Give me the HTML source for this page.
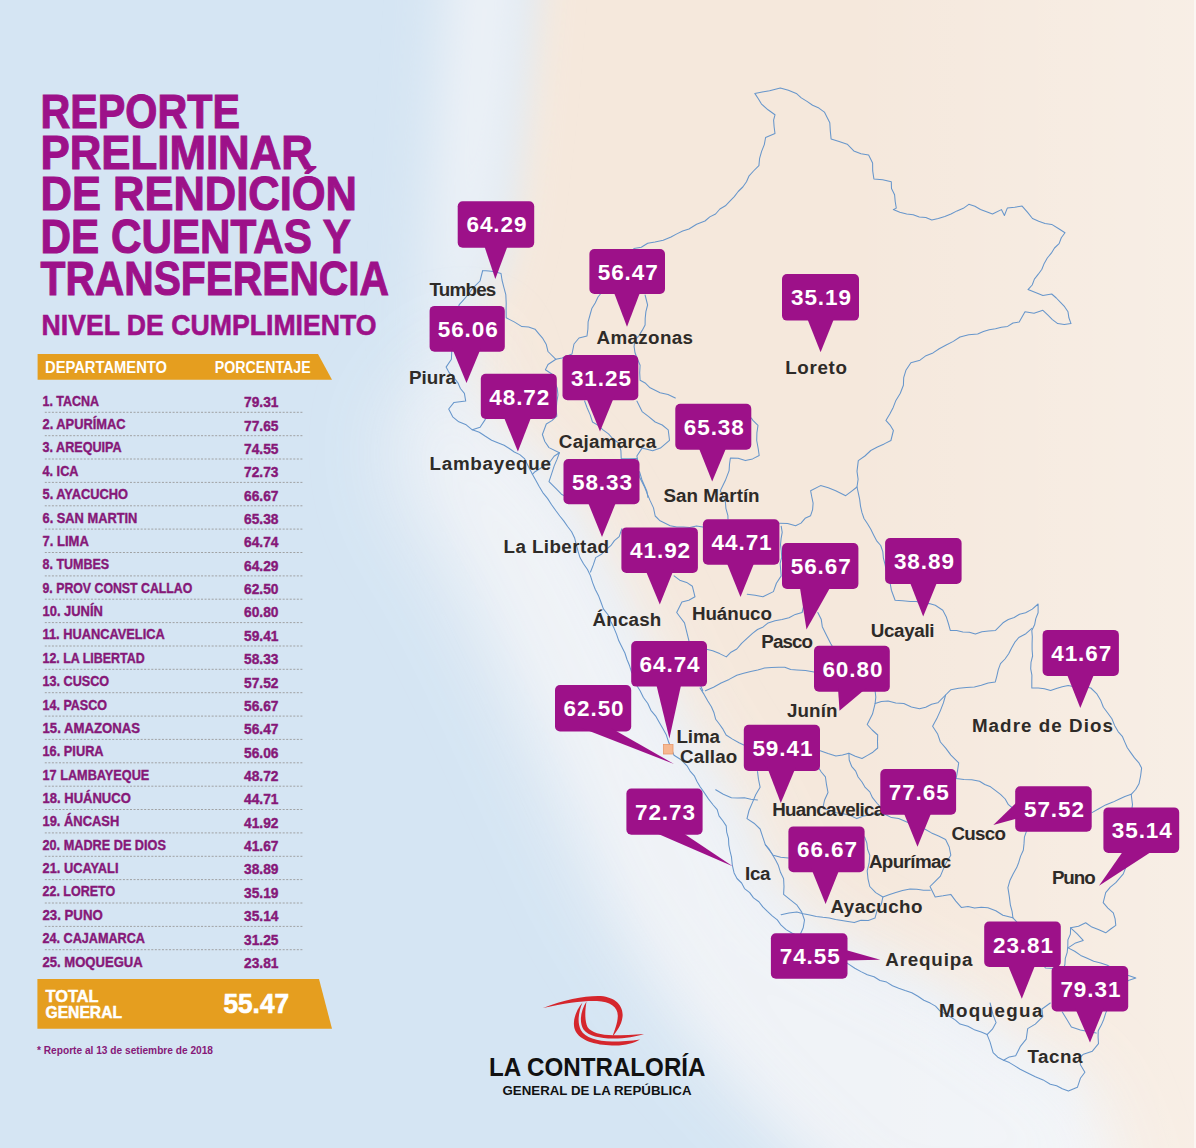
<!DOCTYPE html><html><head><meta charset="utf-8"><style>
html,body{margin:0;padding:0;width:1196px;height:1148px;overflow:hidden;background:#d5e5f3}
svg{display:block}
</style></head><body>
<svg width="1196" height="1148" viewBox="0 0 1196 1148">
<defs>
<filter id="blur" x="-50%" y="-50%" width="200%" height="200%"><feGaussianBlur stdDeviation="40"/></filter>
<filter id="blur2" x="-50%" y="-50%" width="200%" height="200%"><feGaussianBlur stdDeviation="28"/></filter>
<filter id="blur3" x="-50%" y="-50%" width="200%" height="200%"><feGaussianBlur stdDeviation="18"/></filter>
<linearGradient id="rg" x1="0" y1="0" x2="1" y2="0"><stop offset="0" stop-color="#ffffff" stop-opacity="0"/><stop offset="1" stop-color="#ffffff" stop-opacity="0.28"/></linearGradient>
</defs>
<rect width="1196" height="1148" fill="#d5e5f3"/>

<path d="M538,-60 L1300,-60 L1300,1250 L1005,1250 L1035,1140 L1076,1094 L1008,1058 L936,1003 L856,966 L790,928 L748,878 L738,828 L712,789 L681,744 L651,692 L626,632 L601,580 L566,514 L535,468 L484,436 L467,404 L463,362 L471,304 L494,276 L508,220 L522,100 Z" fill="#f5e8dc" filter="url(#blur3)"/>
<path d="M455,-60 L525,-60 L512,100 L498,220 L484,278 L468,304 L462,362 L466,400 L482,428 L532,460 L564,510 L598,576 L624,628 L650,688 L680,740 L710,784 L736,824 L746,870 L792,918 L858,956 L938,994 L1010,1050 L1076,1082 L1120,1220 L900,1220 L780,1110 L700,1010 L640,910 L600,810 L560,710 L520,610 L480,530 L445,440 L430,330 L440,150 Z" fill="#f0f3f7" filter="url(#blur2)"/>
<path d="M470,330 L490,430 L545,470 L580,520 L614,586 L640,638 L666,698 L696,750 L726,794 L752,834 L762,880 L806,926 L870,962 L950,1000 L1020,1052 L1084,1086 L1130,1220 L880,1220 L760,1110 L670,1010 L600,900 L550,790 L500,680 L450,580 L400,500 L390,420 Z" fill="#f0f3f7" filter="url(#blur)" opacity="0.85"/>
<rect x="850" y="0" width="346" height="1148" fill="url(#rg)"/>
<rect x="1194" y="0" width="2" height="1148" fill="#fbf6f2"/>
<text x="40.5" y="127.7" font-family="Liberation Sans" font-weight="700" font-size="48.5" fill="#9d1189" textLength="199.5" lengthAdjust="spacingAndGlyphs" stroke="#9d1189" stroke-width="1.1">REPORTE</text>
<text x="40.5" y="168.6" font-family="Liberation Sans" font-weight="700" font-size="48.5" fill="#9d1189" textLength="272.5" lengthAdjust="spacingAndGlyphs" stroke="#9d1189" stroke-width="1.1">PRELIMINAR</text>
<text x="40.5" y="210.2" font-family="Liberation Sans" font-weight="700" font-size="48.5" fill="#9d1189" textLength="316.5" lengthAdjust="spacingAndGlyphs" stroke="#9d1189" stroke-width="1.1">DE RENDICIÓN</text>
<text x="40.5" y="252.8" font-family="Liberation Sans" font-weight="700" font-size="48.5" fill="#9d1189" textLength="310.5" lengthAdjust="spacingAndGlyphs" stroke="#9d1189" stroke-width="1.1">DE CUENTAS Y</text>
<text x="40.5" y="294.6" font-family="Liberation Sans" font-weight="700" font-size="48.5" fill="#9d1189" textLength="348.5" lengthAdjust="spacingAndGlyphs" stroke="#9d1189" stroke-width="1.1">TRANSFERENCIA</text>
<text x="41.5" y="334.7" font-family="Liberation Sans" font-weight="700" font-size="29" fill="#9d1189" textLength="335.0" lengthAdjust="spacingAndGlyphs" stroke="#9d1189" stroke-width="0.6">NIVEL DE CUMPLIMIENTO</text>
<path d="M37.6,354 L318,354 L332,379.8 L37.6,379.8 Z" fill="#e59e1f"/>
<text x="45.0" y="372.9" font-family="Liberation Sans" font-weight="700" font-size="16.8" fill="#ffffff" textLength="122.0" lengthAdjust="spacingAndGlyphs">DEPARTAMENTO</text>
<text x="214.7" y="372.9" font-family="Liberation Sans" font-weight="700" font-size="16.8" fill="#ffffff" textLength="96.0" lengthAdjust="spacingAndGlyphs">PORCENTAJE</text>
<text x="42.5" y="405.7" font-family="Liberation Sans" font-weight="700" font-size="14.6" fill="#861878" textLength="56.6" lengthAdjust="spacingAndGlyphs" stroke="#861878" stroke-width="0.4">1. TACNA</text>
<text x="244.0" y="407.1" font-family="Liberation Sans" font-weight="700" font-size="14.6" fill="#861878" textLength="34.5" lengthAdjust="spacingAndGlyphs" stroke="#861878" stroke-width="0.4">79.31</text>
<line x1="44.8" y1="412.3" x2="303" y2="412.3" stroke="#9a9a9a" stroke-width="0.9" stroke-dasharray="2,1.55"/>
<text x="42.5" y="429.1" font-family="Liberation Sans" font-weight="700" font-size="14.6" fill="#861878" textLength="83.0" lengthAdjust="spacingAndGlyphs" stroke="#861878" stroke-width="0.4">2. APURÍMAC</text>
<text x="244.0" y="430.5" font-family="Liberation Sans" font-weight="700" font-size="14.6" fill="#861878" textLength="34.5" lengthAdjust="spacingAndGlyphs" stroke="#861878" stroke-width="0.4">77.65</text>
<line x1="44.8" y1="435.7" x2="303" y2="435.7" stroke="#9a9a9a" stroke-width="0.9" stroke-dasharray="2,1.55"/>
<text x="42.5" y="452.4" font-family="Liberation Sans" font-weight="700" font-size="14.6" fill="#861878" textLength="79.2" lengthAdjust="spacingAndGlyphs" stroke="#861878" stroke-width="0.4">3. AREQUIPA</text>
<text x="244.0" y="453.8" font-family="Liberation Sans" font-weight="700" font-size="14.6" fill="#861878" textLength="34.5" lengthAdjust="spacingAndGlyphs" stroke="#861878" stroke-width="0.4">74.55</text>
<line x1="44.8" y1="459.0" x2="303" y2="459.0" stroke="#9a9a9a" stroke-width="0.9" stroke-dasharray="2,1.55"/>
<text x="42.5" y="475.8" font-family="Liberation Sans" font-weight="700" font-size="14.6" fill="#861878" textLength="36.0" lengthAdjust="spacingAndGlyphs" stroke="#861878" stroke-width="0.4">4. ICA</text>
<text x="244.0" y="477.2" font-family="Liberation Sans" font-weight="700" font-size="14.6" fill="#861878" textLength="34.5" lengthAdjust="spacingAndGlyphs" stroke="#861878" stroke-width="0.4">72.73</text>
<line x1="44.8" y1="482.4" x2="303" y2="482.4" stroke="#9a9a9a" stroke-width="0.9" stroke-dasharray="2,1.55"/>
<text x="42.5" y="499.2" font-family="Liberation Sans" font-weight="700" font-size="14.6" fill="#861878" textLength="85.5" lengthAdjust="spacingAndGlyphs" stroke="#861878" stroke-width="0.4">5. AYACUCHO</text>
<text x="244.0" y="500.6" font-family="Liberation Sans" font-weight="700" font-size="14.6" fill="#861878" textLength="34.5" lengthAdjust="spacingAndGlyphs" stroke="#861878" stroke-width="0.4">66.67</text>
<line x1="44.8" y1="505.8" x2="303" y2="505.8" stroke="#9a9a9a" stroke-width="0.9" stroke-dasharray="2,1.55"/>
<text x="42.5" y="522.5" font-family="Liberation Sans" font-weight="700" font-size="14.6" fill="#861878" textLength="94.9" lengthAdjust="spacingAndGlyphs" stroke="#861878" stroke-width="0.4">6. SAN MARTIN</text>
<text x="244.0" y="523.9" font-family="Liberation Sans" font-weight="700" font-size="14.6" fill="#861878" textLength="34.5" lengthAdjust="spacingAndGlyphs" stroke="#861878" stroke-width="0.4">65.38</text>
<line x1="44.8" y1="529.1" x2="303" y2="529.1" stroke="#9a9a9a" stroke-width="0.9" stroke-dasharray="2,1.55"/>
<text x="42.5" y="545.9" font-family="Liberation Sans" font-weight="700" font-size="14.6" fill="#861878" textLength="46.3" lengthAdjust="spacingAndGlyphs" stroke="#861878" stroke-width="0.4">7. LIMA</text>
<text x="244.0" y="547.3" font-family="Liberation Sans" font-weight="700" font-size="14.6" fill="#861878" textLength="34.5" lengthAdjust="spacingAndGlyphs" stroke="#861878" stroke-width="0.4">64.74</text>
<line x1="44.8" y1="552.5" x2="303" y2="552.5" stroke="#9a9a9a" stroke-width="0.9" stroke-dasharray="2,1.55"/>
<text x="42.5" y="569.3" font-family="Liberation Sans" font-weight="700" font-size="14.6" fill="#861878" textLength="66.7" lengthAdjust="spacingAndGlyphs" stroke="#861878" stroke-width="0.4">8. TUMBES</text>
<text x="244.0" y="570.7" font-family="Liberation Sans" font-weight="700" font-size="14.6" fill="#861878" textLength="34.5" lengthAdjust="spacingAndGlyphs" stroke="#861878" stroke-width="0.4">64.29</text>
<line x1="44.8" y1="575.9" x2="303" y2="575.9" stroke="#9a9a9a" stroke-width="0.9" stroke-dasharray="2,1.55"/>
<text x="42.5" y="592.6" font-family="Liberation Sans" font-weight="700" font-size="14.6" fill="#861878" textLength="149.8" lengthAdjust="spacingAndGlyphs" stroke="#861878" stroke-width="0.4">9. PROV CONST CALLAO</text>
<text x="244.0" y="594.0" font-family="Liberation Sans" font-weight="700" font-size="14.6" fill="#861878" textLength="34.5" lengthAdjust="spacingAndGlyphs" stroke="#861878" stroke-width="0.4">62.50</text>
<line x1="44.8" y1="599.2" x2="303" y2="599.2" stroke="#9a9a9a" stroke-width="0.9" stroke-dasharray="2,1.55"/>
<text x="42.5" y="616.0" font-family="Liberation Sans" font-weight="700" font-size="14.6" fill="#861878" textLength="60.4" lengthAdjust="spacingAndGlyphs" stroke="#861878" stroke-width="0.4">10. JUNÍN</text>
<text x="244.0" y="617.4" font-family="Liberation Sans" font-weight="700" font-size="14.6" fill="#861878" textLength="34.5" lengthAdjust="spacingAndGlyphs" stroke="#861878" stroke-width="0.4">60.80</text>
<line x1="44.8" y1="622.6" x2="303" y2="622.6" stroke="#9a9a9a" stroke-width="0.9" stroke-dasharray="2,1.55"/>
<text x="42.5" y="639.4" font-family="Liberation Sans" font-weight="700" font-size="14.6" fill="#861878" textLength="122.2" lengthAdjust="spacingAndGlyphs" stroke="#861878" stroke-width="0.4">11. HUANCAVELICA</text>
<text x="244.0" y="640.8" font-family="Liberation Sans" font-weight="700" font-size="14.6" fill="#861878" textLength="34.5" lengthAdjust="spacingAndGlyphs" stroke="#861878" stroke-width="0.4">59.41</text>
<line x1="44.8" y1="646.0" x2="303" y2="646.0" stroke="#9a9a9a" stroke-width="0.9" stroke-dasharray="2,1.55"/>
<text x="42.5" y="662.7" font-family="Liberation Sans" font-weight="700" font-size="14.6" fill="#861878" textLength="102.1" lengthAdjust="spacingAndGlyphs" stroke="#861878" stroke-width="0.4">12. LA LIBERTAD</text>
<text x="244.0" y="664.1" font-family="Liberation Sans" font-weight="700" font-size="14.6" fill="#861878" textLength="34.5" lengthAdjust="spacingAndGlyphs" stroke="#861878" stroke-width="0.4">58.33</text>
<line x1="44.8" y1="669.3" x2="303" y2="669.3" stroke="#9a9a9a" stroke-width="0.9" stroke-dasharray="2,1.55"/>
<text x="42.5" y="686.1" font-family="Liberation Sans" font-weight="700" font-size="14.6" fill="#861878" textLength="66.7" lengthAdjust="spacingAndGlyphs" stroke="#861878" stroke-width="0.4">13. CUSCO</text>
<text x="244.0" y="687.5" font-family="Liberation Sans" font-weight="700" font-size="14.6" fill="#861878" textLength="34.5" lengthAdjust="spacingAndGlyphs" stroke="#861878" stroke-width="0.4">57.52</text>
<line x1="44.8" y1="692.7" x2="303" y2="692.7" stroke="#9a9a9a" stroke-width="0.9" stroke-dasharray="2,1.55"/>
<text x="42.5" y="709.5" font-family="Liberation Sans" font-weight="700" font-size="14.6" fill="#861878" textLength="64.5" lengthAdjust="spacingAndGlyphs" stroke="#861878" stroke-width="0.4">14. PASCO</text>
<text x="244.0" y="710.9" font-family="Liberation Sans" font-weight="700" font-size="14.6" fill="#861878" textLength="34.5" lengthAdjust="spacingAndGlyphs" stroke="#861878" stroke-width="0.4">56.67</text>
<line x1="44.8" y1="716.1" x2="303" y2="716.1" stroke="#9a9a9a" stroke-width="0.9" stroke-dasharray="2,1.55"/>
<text x="42.5" y="732.8" font-family="Liberation Sans" font-weight="700" font-size="14.6" fill="#861878" textLength="97.5" lengthAdjust="spacingAndGlyphs" stroke="#861878" stroke-width="0.4">15. AMAZONAS</text>
<text x="244.0" y="734.2" font-family="Liberation Sans" font-weight="700" font-size="14.6" fill="#861878" textLength="34.5" lengthAdjust="spacingAndGlyphs" stroke="#861878" stroke-width="0.4">56.47</text>
<line x1="44.8" y1="739.4" x2="303" y2="739.4" stroke="#9a9a9a" stroke-width="0.9" stroke-dasharray="2,1.55"/>
<text x="42.5" y="756.2" font-family="Liberation Sans" font-weight="700" font-size="14.6" fill="#861878" textLength="61.1" lengthAdjust="spacingAndGlyphs" stroke="#861878" stroke-width="0.4">16. PIURA</text>
<text x="244.0" y="757.6" font-family="Liberation Sans" font-weight="700" font-size="14.6" fill="#861878" textLength="34.5" lengthAdjust="spacingAndGlyphs" stroke="#861878" stroke-width="0.4">56.06</text>
<line x1="44.8" y1="762.8" x2="303" y2="762.8" stroke="#9a9a9a" stroke-width="0.9" stroke-dasharray="2,1.55"/>
<text x="42.5" y="779.6" font-family="Liberation Sans" font-weight="700" font-size="14.6" fill="#861878" textLength="106.8" lengthAdjust="spacingAndGlyphs" stroke="#861878" stroke-width="0.4">17 LAMBAYEQUE</text>
<text x="244.0" y="781.0" font-family="Liberation Sans" font-weight="700" font-size="14.6" fill="#861878" textLength="34.5" lengthAdjust="spacingAndGlyphs" stroke="#861878" stroke-width="0.4">48.72</text>
<line x1="44.8" y1="786.2" x2="303" y2="786.2" stroke="#9a9a9a" stroke-width="0.9" stroke-dasharray="2,1.55"/>
<text x="42.5" y="802.9" font-family="Liberation Sans" font-weight="700" font-size="14.6" fill="#861878" textLength="88.3" lengthAdjust="spacingAndGlyphs" stroke="#861878" stroke-width="0.4">18. HUÁNUCO</text>
<text x="244.0" y="804.3" font-family="Liberation Sans" font-weight="700" font-size="14.6" fill="#861878" textLength="34.5" lengthAdjust="spacingAndGlyphs" stroke="#861878" stroke-width="0.4">44.71</text>
<line x1="44.8" y1="809.5" x2="303" y2="809.5" stroke="#9a9a9a" stroke-width="0.9" stroke-dasharray="2,1.55"/>
<text x="42.5" y="826.3" font-family="Liberation Sans" font-weight="700" font-size="14.6" fill="#861878" textLength="76.7" lengthAdjust="spacingAndGlyphs" stroke="#861878" stroke-width="0.4">19. ÁNCASH</text>
<text x="244.0" y="827.7" font-family="Liberation Sans" font-weight="700" font-size="14.6" fill="#861878" textLength="34.5" lengthAdjust="spacingAndGlyphs" stroke="#861878" stroke-width="0.4">41.92</text>
<line x1="44.8" y1="832.9" x2="303" y2="832.9" stroke="#9a9a9a" stroke-width="0.9" stroke-dasharray="2,1.55"/>
<text x="42.5" y="849.7" font-family="Liberation Sans" font-weight="700" font-size="14.6" fill="#861878" textLength="123.4" lengthAdjust="spacingAndGlyphs" stroke="#861878" stroke-width="0.4">20. MADRE DE DIOS</text>
<text x="244.0" y="851.1" font-family="Liberation Sans" font-weight="700" font-size="14.6" fill="#861878" textLength="34.5" lengthAdjust="spacingAndGlyphs" stroke="#861878" stroke-width="0.4">41.67</text>
<line x1="44.8" y1="856.3" x2="303" y2="856.3" stroke="#9a9a9a" stroke-width="0.9" stroke-dasharray="2,1.55"/>
<text x="42.5" y="873.0" font-family="Liberation Sans" font-weight="700" font-size="14.6" fill="#861878" textLength="76.0" lengthAdjust="spacingAndGlyphs" stroke="#861878" stroke-width="0.4">21. UCAYALI</text>
<text x="244.0" y="874.4" font-family="Liberation Sans" font-weight="700" font-size="14.6" fill="#861878" textLength="34.5" lengthAdjust="spacingAndGlyphs" stroke="#861878" stroke-width="0.4">38.89</text>
<line x1="44.8" y1="879.6" x2="303" y2="879.6" stroke="#9a9a9a" stroke-width="0.9" stroke-dasharray="2,1.55"/>
<text x="42.5" y="896.4" font-family="Liberation Sans" font-weight="700" font-size="14.6" fill="#861878" textLength="72.7" lengthAdjust="spacingAndGlyphs" stroke="#861878" stroke-width="0.4">22. LORETO</text>
<text x="244.0" y="897.8" font-family="Liberation Sans" font-weight="700" font-size="14.6" fill="#861878" textLength="34.5" lengthAdjust="spacingAndGlyphs" stroke="#861878" stroke-width="0.4">35.19</text>
<line x1="44.8" y1="903.0" x2="303" y2="903.0" stroke="#9a9a9a" stroke-width="0.9" stroke-dasharray="2,1.55"/>
<text x="42.5" y="919.8" font-family="Liberation Sans" font-weight="700" font-size="14.6" fill="#861878" textLength="60.2" lengthAdjust="spacingAndGlyphs" stroke="#861878" stroke-width="0.4">23. PUNO</text>
<text x="244.0" y="921.2" font-family="Liberation Sans" font-weight="700" font-size="14.6" fill="#861878" textLength="34.5" lengthAdjust="spacingAndGlyphs" stroke="#861878" stroke-width="0.4">35.14</text>
<line x1="44.8" y1="926.4" x2="303" y2="926.4" stroke="#9a9a9a" stroke-width="0.9" stroke-dasharray="2,1.55"/>
<text x="42.5" y="943.1" font-family="Liberation Sans" font-weight="700" font-size="14.6" fill="#861878" textLength="102.5" lengthAdjust="spacingAndGlyphs" stroke="#861878" stroke-width="0.4">24. CAJAMARCA</text>
<text x="244.0" y="944.5" font-family="Liberation Sans" font-weight="700" font-size="14.6" fill="#861878" textLength="34.5" lengthAdjust="spacingAndGlyphs" stroke="#861878" stroke-width="0.4">31.25</text>
<line x1="44.8" y1="949.7" x2="303" y2="949.7" stroke="#9a9a9a" stroke-width="0.9" stroke-dasharray="2,1.55"/>
<text x="42.5" y="966.5" font-family="Liberation Sans" font-weight="700" font-size="14.6" fill="#861878" textLength="100.2" lengthAdjust="spacingAndGlyphs" stroke="#861878" stroke-width="0.4">25. MOQUEGUA</text>
<text x="244.0" y="967.9" font-family="Liberation Sans" font-weight="700" font-size="14.6" fill="#861878" textLength="34.5" lengthAdjust="spacingAndGlyphs" stroke="#861878" stroke-width="0.4">23.81</text>
<path d="M37.4,979 L319,979 L332,1028.7 L37.4,1028.7 Z" fill="#e59e1f"/>
<text x="45.5" y="1002.0" font-family="Liberation Sans" font-weight="700" font-size="16.5" fill="#ffffff" textLength="53.0" lengthAdjust="spacingAndGlyphs" stroke="#ffffff" stroke-width="0.5">TOTAL</text>
<text x="45.5" y="1017.8" font-family="Liberation Sans" font-weight="700" font-size="16.5" fill="#ffffff" textLength="76.5" lengthAdjust="spacingAndGlyphs" stroke="#ffffff" stroke-width="0.5">GENERAL</text>
<text x="223.5" y="1012.8" font-family="Liberation Sans" font-weight="700" font-size="27" fill="#ffffff" textLength="65.5" lengthAdjust="spacingAndGlyphs" stroke="#ffffff" stroke-width="0.7">55.47</text>
<text x="37.0" y="1053.6" font-family="Liberation Sans" font-weight="700" font-size="11" fill="#861878" textLength="176.0" lengthAdjust="spacingAndGlyphs">* Reporte al 13 de setiembre de 2018</text>
<path d="M543,1008 C563,1000 583,996 598,996 C614,996 624,1005 622.5,1017 C621.5,1025 617,1031 612.6,1036.5 C614.5,1030 617.5,1024 617.8,1016 C618,1007 610,1001.5 597,1001 C584,1000.5 565,1003 543,1008 Z" fill="#d5262c"/>
<path d="M582.5,1002.5 C575.5,1011 571,1023 576,1032 C582,1042 599,1045.5 615,1045.5 C626,1045.5 634,1043 640,1039.5 C631,1041 621,1041.5 612,1041.5 C597,1041.5 585,1037.5 580.8,1030 C577,1022.5 578.5,1012 582.5,1002.5 Z" fill="#d5262c"/>
<path d="M586.5,1001.5 C580.5,1011 579,1022 583.5,1029.5 C588.5,1036 600,1038.5 613,1038.5 C626,1038.5 636,1036.5 644,1034 C634,1035 623,1035.2 613,1035.2 C601,1035.2 591,1032.5 587.5,1027 C584.5,1020 585,1011 586.5,1001.5 Z" fill="#d5262c"/>
<text x="489.0" y="1076.4" font-family="Liberation Sans" font-weight="700" font-size="25.5" fill="#111111" textLength="216.5" lengthAdjust="spacingAndGlyphs">LA CONTRALORÍA</text>
<text x="502.5" y="1094.5" font-family="Liberation Sans" font-weight="700" font-size="12.8" fill="#111111" textLength="189.0" lengthAdjust="spacingAndGlyphs">GENERAL DE LA REPÚBLICA</text>
<g fill="none" stroke="#6796cb" stroke-width="1.05" stroke-linejoin="round" stroke-linecap="round">
<path d="M482.7,270.5 L488.9,271.1 L495.0,271.7 L501.0,273.4 L502.0,280.0 L503.6,286.4 L505.8,294.6 L506.2,303.0 L506.1,310.4 L506.2,317.8 L514.2,321.9 L521.9,326.6 L528.6,326.9 L535.0,329.2 L538.9,333.8 L542.8,338.4 L546.3,344.6 L548.0,351.5 L555.9,359.3 L562.0,358.0 L572.0,354.0 L574.0,344.0 L579.0,338.0 L587.0,336.0 L587.9,329.0 L588.1,321.9 L590.0,315.0 L591.8,308.6 L595.2,302.9 L598.0,297.0 L602.0,292.0 L604.1,285.8 L607.7,280.5 L611.8,275.5 L615.0,270.0 L620.5,265.3 L624.6,259.4 L629.1,253.7 L634.0,248.5 L641.3,247.3 L647.7,243.2 L655.0,242.0 L663.2,240.3 L671.0,237.0 L676.8,233.9 L682.7,231.0 L689.0,229.0 L696.6,224.2 L705.0,221.0 L709.8,216.9 L715.6,214.0 L719.9,209.0 L725.4,205.8 L729.9,201.2 L734.3,196.6 L738.2,191.5 L742.8,187.0 L746.5,181.7 L749.1,175.8 L753.5,171.0 L758.9,165.6 L759.6,158.4 L761.6,151.4 L764.3,144.6 L765.6,137.5 L775.0,133.5 L774.1,126.8 L773.6,120.1 L775.0,114.8 L768.0,109.8 L761.5,104.1 L758.3,98.7 L754.8,93.4 L762.2,91.9 L769.6,90.7 L780.3,88.0 L788.4,90.3 L796.3,93.4 L801.3,97.9 L807.0,101.4 L812.6,105.3 L818.9,108.1 L824.4,112.1 L829.8,122.8 L830.3,130.9 L831.1,138.9 L839.1,141.6 L847.2,144.2 L853.8,150.9 L861.0,153.7 L868.6,154.9 L872.6,162.9 L872.7,170.9 L873.9,178.9 L882.7,179.8 L891.3,181.7 L891.5,188.5 L894.6,194.7 L895.2,201.5 L896.3,208.1 L893.3,209.6 L899.8,212.3 L906.7,214.0 L913.2,214.8 L919.3,217.0 L925.8,217.5 L931.8,220.0 L938.3,218.4 L944.8,216.6 L951.0,214.0 L957.0,210.9 L963.3,208.3 L968.8,204.3 L974.9,206.3 L980.5,209.5 L986.5,211.8 L992.5,214.0 L1001.4,209.6 L1004.4,215.5 L1007.3,208.1 L1014.7,207.3 L1022.1,206.1 L1027.4,212.2 L1032.5,218.5 L1038.7,221.2 L1045.0,223.4 L1051.7,224.4 L1058.4,228.5 L1065.0,232.7 L1061.3,237.7 L1059.1,243.6 L1054.5,248.0 L1051.3,253.2 L1047.3,258.0 L1044.2,263.4 L1041.9,269.2 L1038.3,274.2 L1034.4,279.1 L1032.2,285.0 L1028.0,289.6 L1035.5,292.5 L1042.9,295.5 L1051.7,294.0 L1056.3,298.0 L1060.5,302.3 L1064.6,306.7 L1068.0,311.8 L1068.9,317.8 L1071.0,323.6 L1064.3,324.4 L1057.7,323.6 L1052.4,319.6 L1047.7,314.9 L1042.9,310.3 L1034.0,313.3 L1025.0,311.8 L1019.2,322.1 L1013.0,323.0 L1007.6,326.4 L1001.4,327.3 L995.5,328.8 L989.3,329.8 L983.4,331.6 L977.7,334.0 L968.7,334.7 L960.0,337.0 L953.3,341.4 L946.2,345.0 L939.2,348.8 L933.0,352.9 L926.0,355.7 L920.0,360.2 L910.9,362.7 L905.9,370.3 L903.7,377.6 L903.4,385.3 L900.3,393.2 L895.9,400.4 L893.2,407.4 L889.8,414.0 L885.9,420.4 L890.1,425.1 L893.4,430.5 L890.9,440.5 L884.2,443.9 L877.4,447.0 L870.8,450.5 L864.9,456.0 L858.3,460.6 L857.0,471.4 L858.1,479.2 L857.0,487.0 L858.4,493.3 L859.7,499.6 L860.5,506.1 L861.9,512.4 L864.0,518.5 L867.5,523.8 L870.8,529.2 L873.6,534.9 L876.5,540.6 L880.7,545.5 L882.8,551.6 L883.4,558.2 L885.1,564.6 L886.3,571.1 L887.9,577.5 L890.2,583.7 L891.4,590.2 L895.1,600.3 L902.7,600.7 L910.2,601.5 L916.6,601.6 L922.7,603.7 L929.2,603.4 L935.3,605.3 L942.8,610.3 L946.2,616.7 L948.4,623.5 L950.3,630.4 L956.7,630.6 L962.9,631.9 L969.3,632.2 L975.4,634.1 L981.9,631.8 L988.7,630.9 L995.5,630.4 L1003.0,622.8 L1008.3,619.5 L1014.2,617.5 L1019.5,614.3 L1025.6,612.8 L1032.3,609.1 L1038.1,604.0 L1038.1,612.8 L1035.8,618.6 L1034.6,624.8 L1031.8,630.4 L1032.3,636.8 L1032.1,643.2 L1032.1,649.6 L1032.6,656.0 L1031.0,662.4 L1030.7,668.8 L1031.9,675.2 L1031.8,681.6 L1031.8,688.0 L1038.2,687.9 L1044.4,688.8 L1050.6,690.5 L1056.4,688.5 L1062.2,686.7 L1068.2,685.5 L1075.7,687.1 L1083.3,686.4 L1090.8,688.0 L1096.6,693.6 L1100.8,700.6 L1103.4,707.3 L1107.7,713.0 L1111.9,718.8 L1114.6,725.4 L1118.1,731.6 L1122.3,736.3 L1124.8,742.1 L1127.3,747.8 L1130.9,752.9 L1134.5,757.9 L1138.7,762.6 L1141.6,768.1 L1140.6,776.0 L1139.0,783.8 L1135.7,789.5 L1131.2,794.3 L1132.5,804.7 L1131.6,810.8 L1131.9,817.0 L1131.1,823.1 L1131.8,829.3 L1131.7,835.4 L1130.1,841.5 L1129.5,847.7 L1129.5,853.8 L1130.0,860.0 L1126.0,866.7 L1123.3,873.9 L1115.8,882.7 L1110.3,887.2 L1105.7,892.7 L1103.2,902.7 L1107.9,908.1 L1113.3,912.8 L1115.1,918.9 L1115.8,925.3 L1110.7,929.0 L1105.7,932.8 L1098.9,929.8 L1091.9,927.1 L1085.7,922.8 L1078.5,926.3 L1070.6,927.8 L1077.2,933.8 L1083.2,940.4 L1075.6,942.9 L1068.1,947.9 L1074.7,951.2 L1080.7,955.4 L1087.2,958.3 L1093.7,961.3 L1100.7,962.9 L1107.4,965.3 L1113.8,968.9 L1120.8,970.5 L1127.8,975.2 L1135.8,978.0 L1128.3,980.5 L1123.0,984.7 L1119.4,990.5 L1115.0,995.5 L1110.0,1000.0 L1108.4,1006.7 L1105.7,1013.1 L1103.8,1019.2 L1101.3,1025.1 L1098.2,1030.7 L1098.1,1037.2 L1098.5,1043.6 L1092.4,1051.2 L1083.4,1054.2 L1080.4,1057.2 L1080.4,1064.7 L1084.9,1072.2 L1080.4,1078.3 L1077.4,1087.3 L1068.4,1091.1 L1062.3,1088.8 L1056.6,1085.7 L1050.3,1084.3 L1043.1,1079.9 L1035.3,1076.8 L1027.7,1073.0 L1020.2,1069.2 L1014.8,1065.9 L1009.4,1062.6 L1003.6,1060.2 L997.8,1057.2 L993.1,1052.7 L990.1,1042.1 L987.1,1034.6 L981.2,1032.0 L975.1,1030.1 L967.9,1026.3 L960.0,1024.1 L955.4,1020.1 L950.4,1016.7 L945.1,1013.6 L939.7,1010.7 L935.5,1006.1 L930.2,1003.1 L923.8,1000.3 L917.9,996.2 L911.8,992.7 L905.1,990.5 L898.7,988.2 L892.5,985.7 L886.6,982.1 L880.0,980.5 L874.0,976.8 L867.3,974.7 L861.0,971.6 L854.8,968.3 L849.0,964.4 L843.6,960.7 L837.7,958.0 L831.3,956.5 L826.1,952.2 L820.0,950.0 L815.0,945.6 L809.1,942.6 L803.2,939.6 L797.8,935.7 L791.8,933.0 L786.1,929.6 L781.1,925.2 L777.3,919.9 L772.2,915.8 L767.4,911.4 L762.8,906.9 L758.9,901.7 L753.5,897.9 L749.7,892.6 L744.5,888.6 L741.6,883.0 L737.0,878.5 L734.1,872.9 L732.3,865.1 L731.5,857.2 L730.0,851.0 L728.8,844.8 L728.5,838.4 L726.7,832.2 L726.2,825.9 L722.8,820.8 L719.0,815.9 L717.2,809.7 L713.2,805.0 L708.6,799.1 L704.4,792.9 L700.1,786.7 L697.0,781.4 L694.3,775.8 L690.1,771.1 L687.0,765.8 L681.1,759.8 L674.0,755.3 L671.4,748.8 L668.7,742.3 L666.1,734.4 L662.7,728.3 L659.2,722.2 L655.7,716.1 L650.9,710.3 L647.8,703.5 L643.4,697.5 L640.1,690.8 L636.5,685.0 L635.5,678.0 L631.6,672.3 L629.6,665.8 L627.0,659.5 L624.9,653.0 L621.9,646.9 L618.8,640.8 L616.6,634.4 L614.0,628.1 L610.8,621.5 L608.0,614.8 L603.4,608.9 L600.9,602.0 L598.4,595.4 L595.2,589.2 L592.6,582.6 L590.5,575.9 L587.5,569.5 L583.5,563.7 L580.0,557.6 L578.0,551.1 L576.3,544.5 L574.6,537.9 L571.6,531.7 L567.6,526.5 L563.9,521.1 L559.8,516.0 L555.9,510.8 L551.6,504.7 L547.5,498.4 L542.8,492.6 L539.2,486.6 L535.9,480.4 L532.4,474.3 L528.4,466.5 L524.5,458.6 L519.8,454.6 L514.3,452.0 L509.3,448.5 L504.1,445.3 L498.4,443.0 L491.6,440.2 L485.4,436.3 L479.3,432.2 L472.3,429.8 L466.2,424.8 L458.8,421.8 L452.7,416.8 L448.7,409.0 L454.0,402.4 L465.7,401.1 L464.4,393.3 L460.4,388.5 L457.9,382.8 L453.9,377.6 L449.3,372.9 L446.1,367.1 L451.4,359.3 L451.7,351.9 L452.3,344.5 L454.5,337.4 L455.0,330.0 L456.7,323.8 L458.0,317.5 L457.4,310.9 L459.2,304.7 L461.8,301.8 L467.4,295.5 L472.3,288.7 L480.0,281.0 L482.7,270.5"/>
<path d="M472.3,429.8 L480.1,427.2 L485.3,419.4 L486.2,410.0"/>
<path d="M555.9,359.3 L548.0,364.5 L545.4,369.7 L553.3,375.0 L554.5,381.7 L557.2,388.2 L558.0,395.0 L556.8,402.0 L556.2,409.1 L556.8,416.2 L551.9,420.6 L546.3,424.0 L542.4,434.5 L544.8,441.5 L549.0,447.6 L559.4,452.8 L557.0,459.4 L554.2,465.9 L551.6,473.8 L549.0,481.6 L556.8,489.4 L561.4,494.2 L567.2,497.2"/>
<path d="M559.4,452.8 L554.1,456.3 L550.3,461.5 L545.0,465.0 L540.1,468.5 L535.0,471.7 L532.4,474.3"/>
<path d="M584.6,401.0 L587.2,408.0 L590.2,414.9 L592.5,422.0 L598.1,425.4 L603.0,429.8 L608.5,433.9 L613.1,439.0 L618.6,443.0 L620.9,450.6 L621.2,458.6 L629.0,458.7 L636.9,458.6"/>
<path d="M636.9,401.1 L642.1,411.6 L648.7,416.7 L655.2,422.0 L662.2,425.0 L668.2,429.8 L669.5,440.3 L660.4,448.1 L652.6,450.7 L642.1,448.1 L636.9,456.0 L638.1,462.9 L638.4,470.0 L639.5,476.9 L644.7,487.3 L647.3,493.9 L650.0,500.4 L653.5,507.9 L655.2,516.0 L660.1,520.8 L670.2,525.8 L676.7,527.1 L683.3,526.9 L689.8,527.6 L696.4,525.9 L702.9,527.0"/>
<path d="M639.5,471.7 L642.0,480.0 L644.5,485.7 L646.9,491.3 L647.9,497.5"/>
<path d="M621.8,528.8 L619.2,536.7 L614.4,540.6 L610.8,545.7 L606.1,549.7 L601.4,554.3 L595.7,557.6 L593.3,564.9 L590.5,572.0"/>
<path d="M645.1,295.0 L647.6,305.0 L645.9,311.6 L645.2,318.3 L645.1,325.1 L642.2,330.4 L639.0,335.6 L635.0,340.2 L634.1,346.4 L635.0,352.7 L637.4,359.0 L640.1,365.2 L639.7,372.8 L640.1,380.3 L645.6,383.3 L650.1,387.8 L660.1,392.8 L668.0,394.5 L675.3,398.0"/>
<path d="M751.3,418.0 L752.9,420.4 L758.0,425.4 L756.9,432.9 L756.7,440.5 L758.1,448.0 L759.2,455.5 L752.6,458.9 L745.4,460.6 L738.1,458.3 L730.4,458.0 L729.5,464.3 L729.1,470.6 L725.3,480.6 L720.3,490.7 L725.3,500.7 L725.9,508.3 L727.9,515.7 L728.0,519.0"/>
<path d="M779.4,523.3 L787.6,523.6 L795.6,525.8 L801.0,523.1 L805.1,518.3 L810.6,515.7 L812.6,509.6 L813.1,503.2 L811.8,497.0 L810.6,490.7 L820.6,485.6 L828.3,487.8 L835.7,490.7 L845.7,495.7 L851.4,491.4 L857.0,487.0"/>
<path d="M674.1,575.9 L679.7,580.2 L686.6,582.4 L692.4,586.3 L695.0,596.8 L688.8,600.2 L681.9,602.0 L676.7,612.5 L680.6,617.7 L684.5,622.9 L687.1,633.4 L689.7,643.8 L697.7,645.9 L705.4,649.0 L712.7,650.8 L719.6,653.6 L726.3,656.9 L731.0,652.2 L736.8,649.0 L741.6,643.3 L747.0,638.3 L752.5,633.4 L757.5,629.5 L763.2,626.9 L768.1,622.9 L775.0,620.7 L782.0,619.4 L789.0,617.7 L795.3,614.4 L802.1,612.5 L804.7,602.0"/>
<path d="M747.2,594.2 L755.1,595.2 L762.9,596.8 L773.4,591.6 L776.4,583.3 L781.2,575.9 L780.7,569.7 L780.1,563.5 L781.7,557.3 L781.3,551.0 L780.5,544.8 L781.1,538.6 L782.2,532.4 L781.2,526.2"/>
<path d="M817.8,612.5 L821.2,619.2 L822.3,626.7 L825.6,633.4 L830.8,643.8 L834.0,649.1 L836.9,654.6 L840.0,660.0 L842.7,667.0 L846.9,673.2 L850.0,680.0"/>
<path d="M689.7,643.8 L691.5,650.9 L692.8,658.0 L695.0,665.0 L695.9,671.8 L699.2,677.8 L700.2,684.6 L702.8,690.8"/>
<path d="M705.4,690.8 L713.5,687.3 L721.1,683.0 L729.1,679.4 L736.8,675.2 L743.7,673.3 L750.7,671.4 L757.7,670.0 L764.5,668.1 L771.5,667.4 L778.6,667.3 L784.8,667.3 L790.7,669.6 L796.9,670.0 L805.5,670.5 L814.0,672.0"/>
<path d="M875.1,690.6 L875.8,697.1 L875.1,703.6 L881.4,701.4 L888.1,701.0 L895.8,703.0 L903.8,703.6 L911.4,707.0 L919.5,708.8 L925.7,707.2 L931.6,704.3 L937.8,702.8 L945.6,695.0 L950.9,689.7 L958.7,688.3 L966.5,687.5 L974.4,687.1 L981.3,685.3 L988.2,682.9 L995.3,681.9 L996.9,675.8 L998.3,669.6 L1000.5,663.6 L1005.0,659.0 L1008.7,653.8 L1011.6,648.0 L1014.7,642.4 L1018.8,637.5 L1025.9,633.7 L1031.9,628.3"/>
<path d="M945.6,695.0 L943.4,702.9 L940.4,710.6 L936.8,718.6 L932.6,726.3 L937.5,733.7 L940.4,742.0 L945.9,748.4 L950.9,755.1 L958.7,762.9 L957.5,770.8 L956.1,778.6 L963.9,779.5 L971.8,779.7 L979.6,781.2 L984.8,784.5 L990.6,786.8 L995.6,790.6 L1000.5,794.3 L1005.2,799.0 L1008.4,804.7 L1015.2,810.0"/>
<path d="M700.0,688.0 L704.1,694.4 L707.8,701.0 L711.4,706.7 L714.0,712.8 L715.7,719.3 L719.5,724.3 L723.1,729.4 L726.1,735.0 L732.5,739.1 L739.0,742.8 L743.8,745.0"/>
<path d="M820.2,750.7 L828.0,753.4 L835.9,755.9 L842.5,755.1 L848.9,753.3 L855.3,756.2 L862.0,758.5 L867.5,755.4 L872.9,752.2 L877.7,748.0 L877.5,741.5 L877.7,735.0 L872.2,730.0 L867.2,724.5 L872.5,714.1 L875.1,703.6"/>
<path d="M848.9,753.3 L849.2,760.0 L851.6,766.3 L855.7,771.1 L858.1,777.0 L862.0,782.0 L865.2,787.4 L869.8,791.9 L872.5,797.7 L877.2,803.5 L882.3,808.8 L888.1,813.4"/>
<path d="M757.5,771.6 L758.5,779.4 L760.1,787.2 L755.7,794.8 L752.3,802.9 L749.0,810.5 L747.0,818.6 L754.0,823.2 L760.1,829.0 L762.7,836.9 L765.3,844.7 L769.2,850.0 L773.2,855.2 L780.7,857.3 L788.4,858.0"/>
<path d="M815.0,761.1 L817.9,766.7 L821.3,772.0 L825.4,776.8 L826.5,784.7 L828.0,792.5 L824.6,800.0 L822.8,808.1 L829.5,810.6 L836.3,812.7 L843.4,813.8 L850.3,815.5 L856.8,818.6 L863.6,816.1 L870.7,814.8 L877.7,813.4 L884.9,814.3 L891.5,817.6 L898.6,818.6 L905.1,821.3 L911.5,824.1 L918.1,826.7 L924.7,829.0 L931.5,832.9 L938.6,836.0 L945.6,839.5 L949.2,847.0 L950.8,855.2 L946.7,861.9 L943.4,868.9 L940.4,876.1 L935.2,881.3 L930.0,886.5 L935.2,897.0 L943.0,895.8 L950.8,894.4 L955.8,901.1 L961.3,907.4 L968.0,906.5 L974.6,908.1 L981.3,907.2 L987.9,907.8 L995.8,910.7 L1002.9,915.3 L1012.9,917.8"/>
<path d="M864.6,836.9 L866.8,842.9 L867.6,849.2 L869.8,855.2 L869.1,863.2 L867.2,870.9 L868.0,878.8 L869.8,886.5 L875.7,892.6 L882.9,897.0 L888.9,894.8 L895.0,892.7 L902.5,890.5 L910.1,888.9 L916.8,889.3 L923.5,890.2 L930.2,890.2"/>
<path d="M715.7,789.8 L723.3,794.3 L731.4,797.7 L737.9,798.0 L744.4,797.7 L750.9,799.2 L757.5,800.0"/>
<path d="M765.3,844.7 L769.4,849.4 L772.5,854.7 L775.6,860.1 L778.4,865.6 L780.5,872.3 L783.6,878.7 L784.0,886.5 L783.6,894.4 L790.1,899.7 L796.7,904.8 L801.6,911.9 L804.5,920.0 L803.2,927.8 L800.0,935.0"/>
<path d="M781.1,914.7 L788.9,912.9 L796.8,912.1 L803.3,913.8 L809.8,915.1 L816.3,916.4 L822.9,917.3 L829.3,917.9 L835.5,919.5 L841.8,920.4 L848.0,921.5 L854.3,922.6 L861.0,920.2 L868.3,920.4 L875.0,918.0 L877.0,910.8 L881.3,904.4 L882.9,897.0"/>
<path d="M1026.6,830.8 L1024.4,837.2 L1024.0,843.9 L1023.3,850.3 L1020.6,856.1 L1018.8,862.2 L1016.7,867.6 L1013.1,874.0 L1009.9,880.6 L1007.9,887.7 L1009.3,896.4 L1010.4,905.2 L1012.1,911.4 L1012.9,917.8 L1017.7,923.0 L1020.7,929.5 L1026.2,934.1 L1030.0,940.0 L1032.9,945.7 L1036.9,950.8 L1039.3,956.8 L1041.5,962.9 L1045.5,968.0 L1054.4,968.4 L1063.1,970.5 L1064.9,964.5 L1065.3,958.3 L1067.2,952.3 L1067.8,946.2 L1067.9,939.9 L1070.4,934.1 L1070.6,927.8"/>
<path d="M990.1,1003.0 L991.6,1009.0 L993.1,1015.0 L996.1,1022.6 L992.4,1029.2 L987.1,1034.6"/>
<path d="M1003.6,1060.2 L1009.3,1056.9 L1015.7,1055.7 L1020.2,1046.7 L1026.2,1039.1 L1027.7,1028.6 L1035.3,1024.1 L1042.8,1016.6 L1042.0,1009.0 L1050.3,1003.0"/>
<path d="M1062.3,1012.0 L1066.9,1019.5 L1071.4,1027.1 L1080.4,1030.1 L1088.3,1031.5 L1096.2,1033.1"/>
<path d="M1092.0,812.6 L1098.8,808.7 L1105.6,804.9 L1112.9,802.1 L1118.9,799.2 L1124.9,796.5 L1131.2,794.3"/>
</g>
<rect x="663.5" y="744.5" width="9.5" height="9.5" fill="#f6b891" stroke="#e9996a" stroke-width="0.8"/>
<text x="429.5" y="295.8" font-family="Liberation Sans" font-weight="700" font-size="18.8" fill="#2e2b28" textLength="66.8" lengthAdjust="spacing">Tumbes</text>
<text x="596.5" y="343.5" font-family="Liberation Sans" font-weight="700" font-size="18.8" fill="#2e2b28" textLength="96.5" lengthAdjust="spacing">Amazonas</text>
<text x="785.2" y="374.4" font-family="Liberation Sans" font-weight="700" font-size="18.8" fill="#2e2b28" textLength="61.7" lengthAdjust="spacing">Loreto</text>
<text x="409.0" y="384.0" font-family="Liberation Sans" font-weight="700" font-size="18.8" fill="#2e2b28" textLength="47.0" lengthAdjust="spacing">Piura</text>
<text x="429.5" y="470.4" font-family="Liberation Sans" font-weight="700" font-size="18.8" fill="#2e2b28" textLength="121.5" lengthAdjust="spacing">Lambayeque</text>
<text x="558.8" y="447.8" font-family="Liberation Sans" font-weight="700" font-size="18.8" fill="#2e2b28" textLength="97.5" lengthAdjust="spacing">Cajamarca</text>
<text x="503.5" y="552.7" font-family="Liberation Sans" font-weight="700" font-size="18.8" fill="#2e2b28" textLength="105.5" lengthAdjust="spacing">La Libertad</text>
<text x="663.5" y="501.6" font-family="Liberation Sans" font-weight="700" font-size="18.8" fill="#2e2b28" textLength="96.1" lengthAdjust="spacing">San Martín</text>
<text x="592.5" y="626.3" font-family="Liberation Sans" font-weight="700" font-size="18.8" fill="#2e2b28" textLength="68.8" lengthAdjust="spacing">Áncash</text>
<text x="691.9" y="619.5" font-family="Liberation Sans" font-weight="700" font-size="18.8" fill="#2e2b28" textLength="80.1" lengthAdjust="spacing">Huánuco</text>
<text x="761.3" y="648.3" font-family="Liberation Sans" font-weight="700" font-size="18.8" fill="#2e2b28" textLength="51.7" lengthAdjust="spacing">Pasco</text>
<text x="870.8" y="636.6" font-family="Liberation Sans" font-weight="700" font-size="18.8" fill="#2e2b28" textLength="63.7" lengthAdjust="spacing">Ucayali</text>
<text x="971.9" y="732.0" font-family="Liberation Sans" font-weight="700" font-size="18.8" fill="#2e2b28" textLength="141.1" lengthAdjust="spacing">Madre de Dios</text>
<text x="676.5" y="742.9" font-family="Liberation Sans" font-weight="700" font-size="18.8" fill="#2e2b28" textLength="43.5" lengthAdjust="spacing">Lima</text>
<text x="680.1" y="763.4" font-family="Liberation Sans" font-weight="700" font-size="18.8" fill="#2e2b28" textLength="57.2" lengthAdjust="spacing">Callao</text>
<text x="786.9" y="717.3" font-family="Liberation Sans" font-weight="700" font-size="18.8" fill="#2e2b28" textLength="50.6" lengthAdjust="spacing">Junín</text>
<text x="772.2" y="816.0" font-family="Liberation Sans" font-weight="700" font-size="18.8" fill="#2e2b28" textLength="112.0" lengthAdjust="spacing">Huancavelica</text>
<text x="745.1" y="879.8" font-family="Liberation Sans" font-weight="700" font-size="18.8" fill="#2e2b28" textLength="25.3" lengthAdjust="spacing">Ica</text>
<text x="830.5" y="913.0" font-family="Liberation Sans" font-weight="700" font-size="18.8" fill="#2e2b28" textLength="92.0" lengthAdjust="spacing">Ayacucho</text>
<text x="868.9" y="867.5" font-family="Liberation Sans" font-weight="700" font-size="18.8" fill="#2e2b28" textLength="82.4" lengthAdjust="spacing">Apurímac</text>
<text x="951.5" y="840.2" font-family="Liberation Sans" font-weight="700" font-size="18.8" fill="#2e2b28" textLength="54.5" lengthAdjust="spacing">Cusco</text>
<text x="1051.9" y="884.0" font-family="Liberation Sans" font-weight="700" font-size="18.8" fill="#2e2b28" textLength="43.8" lengthAdjust="spacing">Puno</text>
<text x="885.3" y="966.0" font-family="Liberation Sans" font-weight="700" font-size="18.8" fill="#2e2b28" textLength="87.1" lengthAdjust="spacing">Arequipa</text>
<text x="938.9" y="1017.0" font-family="Liberation Sans" font-weight="700" font-size="18.8" fill="#2e2b28" textLength="103.5" lengthAdjust="spacing">Moquegua</text>
<text x="1027.5" y="1062.6" font-family="Liberation Sans" font-weight="700" font-size="18.8" fill="#2e2b28" textLength="55.0" lengthAdjust="spacing">Tacna</text>
<rect x="457.7" y="201.3" width="76.5" height="46.4" rx="5" fill="#9d1189"/>
<polygon points="484.0,245.0 508.0,245.0 495.3,279.0" fill="#9d1189"/>
<text x="496.5" y="232.3" font-family="Liberation Sans" font-weight="700" font-size="22.5" fill="#ffffff" textLength="60.0" lengthAdjust="spacing" text-anchor="middle">64.29</text>
<rect x="589.4" y="249.0" width="75.6" height="45.0" rx="5" fill="#9d1189"/>
<polygon points="613.0,290.0 641.0,290.0 627.0,326.7" fill="#9d1189"/>
<text x="627.7" y="280.0" font-family="Liberation Sans" font-weight="700" font-size="22.5" fill="#ffffff" textLength="60.0" lengthAdjust="spacing" text-anchor="middle">56.47</text>
<rect x="782.0" y="274.0" width="77.0" height="46.6" rx="5" fill="#9d1189"/>
<polygon points="806.6,317.0 834.7,317.0 820.6,352.3" fill="#9d1189"/>
<text x="821.0" y="305.0" font-family="Liberation Sans" font-weight="700" font-size="22.5" fill="#ffffff" textLength="60.0" lengthAdjust="spacing" text-anchor="middle">35.19</text>
<rect x="429.6" y="305.9" width="75.2" height="45.9" rx="5" fill="#9d1189"/>
<polygon points="452.0,348.0 481.0,348.0 466.5,383.0" fill="#9d1189"/>
<text x="467.7" y="336.9" font-family="Liberation Sans" font-weight="700" font-size="22.5" fill="#ffffff" textLength="60.0" lengthAdjust="spacing" text-anchor="middle">56.06</text>
<rect x="480.8" y="373.8" width="76.0" height="45.2" rx="5" fill="#9d1189"/>
<polygon points="503.0,415.0 532.0,415.0 517.9,451.6" fill="#9d1189"/>
<text x="519.3" y="404.8" font-family="Liberation Sans" font-weight="700" font-size="22.5" fill="#ffffff" textLength="60.0" lengthAdjust="spacing" text-anchor="middle">48.72</text>
<rect x="562.5" y="355.0" width="75.8" height="45.2" rx="5" fill="#9d1189"/>
<polygon points="585.5,396.0 614.5,396.0 600.0,431.5" fill="#9d1189"/>
<text x="600.9" y="386.0" font-family="Liberation Sans" font-weight="700" font-size="22.5" fill="#ffffff" textLength="60.0" lengthAdjust="spacing" text-anchor="middle">31.25</text>
<rect x="563.5" y="459.0" width="76.0" height="45.3" rx="5" fill="#9d1189"/>
<polygon points="587.0,500.0 617.0,500.0 602.0,536.9" fill="#9d1189"/>
<text x="602.0" y="490.0" font-family="Liberation Sans" font-weight="700" font-size="22.5" fill="#ffffff" textLength="60.0" lengthAdjust="spacing" text-anchor="middle">58.33</text>
<rect x="675.3" y="403.8" width="76.0" height="45.9" rx="5" fill="#9d1189"/>
<polygon points="698.0,446.0 727.0,446.0 712.2,481.5" fill="#9d1189"/>
<text x="713.8" y="434.8" font-family="Liberation Sans" font-weight="700" font-size="22.5" fill="#ffffff" textLength="60.0" lengthAdjust="spacing" text-anchor="middle">65.38</text>
<rect x="621.4" y="527.4" width="76.5" height="45.6" rx="5" fill="#9d1189"/>
<polygon points="645.0,569.0 674.0,569.0 659.8,604.4" fill="#9d1189"/>
<text x="660.1" y="558.4" font-family="Liberation Sans" font-weight="700" font-size="22.5" fill="#ffffff" textLength="60.0" lengthAdjust="spacing" text-anchor="middle">41.92</text>
<rect x="702.9" y="519.2" width="76.5" height="45.6" rx="5" fill="#9d1189"/>
<polygon points="726.0,561.0 755.0,561.0 740.5,597.0" fill="#9d1189"/>
<text x="741.6" y="550.2" font-family="Liberation Sans" font-weight="700" font-size="22.5" fill="#ffffff" textLength="60.0" lengthAdjust="spacing" text-anchor="middle">44.71</text>
<rect x="782.0" y="543.0" width="76.4" height="46.0" rx="5" fill="#9d1189"/>
<polygon points="799.5,585.0 831.6,585.0 806.5,629.5" fill="#9d1189"/>
<text x="820.7" y="574.0" font-family="Liberation Sans" font-weight="700" font-size="22.5" fill="#ffffff" textLength="60.0" lengthAdjust="spacing" text-anchor="middle">56.67</text>
<rect x="885.1" y="538.0" width="76.5" height="46.0" rx="5" fill="#9d1189"/>
<polygon points="909.0,580.0 938.0,580.0 923.2,616.6" fill="#9d1189"/>
<text x="923.9" y="569.0" font-family="Liberation Sans" font-weight="700" font-size="22.5" fill="#ffffff" textLength="60.0" lengthAdjust="spacing" text-anchor="middle">38.89</text>
<rect x="1042.6" y="629.9" width="76.3" height="46.1" rx="5" fill="#9d1189"/>
<polygon points="1066.0,672.0 1095.0,672.0 1080.3,708.0" fill="#9d1189"/>
<text x="1081.2" y="660.9" font-family="Liberation Sans" font-weight="700" font-size="22.5" fill="#ffffff" textLength="60.0" lengthAdjust="spacing" text-anchor="middle">41.67</text>
<rect x="631.2" y="641.1" width="75.8" height="45.5" rx="5" fill="#9d1189"/>
<polygon points="655.9,683.0 681.5,683.0 669.4,738.4" fill="#9d1189"/>
<text x="669.6" y="672.1" font-family="Liberation Sans" font-weight="700" font-size="22.5" fill="#ffffff" textLength="60.0" lengthAdjust="spacing" text-anchor="middle">64.74</text>
<rect x="555.0" y="685.0" width="76.2" height="46.4" rx="5" fill="#9d1189"/>
<polygon points="579.0,727.0 609.2,727.0 674.0,764.0" fill="#9d1189"/>
<text x="593.6" y="716.0" font-family="Liberation Sans" font-weight="700" font-size="22.5" fill="#ffffff" textLength="60.0" lengthAdjust="spacing" text-anchor="middle">62.50</text>
<rect x="814.0" y="645.7" width="75.8" height="46.0" rx="5" fill="#9d1189"/>
<polygon points="838.0,688.0 866.6,688.0 839.5,710.7" fill="#9d1189"/>
<text x="852.4" y="676.7" font-family="Liberation Sans" font-weight="700" font-size="22.5" fill="#ffffff" textLength="60.0" lengthAdjust="spacing" text-anchor="middle">60.80</text>
<rect x="743.8" y="724.8" width="76.2" height="46.1" rx="5" fill="#9d1189"/>
<polygon points="767.0,767.0 795.9,767.0 780.8,803.0" fill="#9d1189"/>
<text x="782.4" y="755.8" font-family="Liberation Sans" font-weight="700" font-size="22.5" fill="#ffffff" textLength="60.0" lengthAdjust="spacing" text-anchor="middle">59.41</text>
<rect x="626.4" y="788.6" width="76.2" height="46.1" rx="5" fill="#9d1189"/>
<polygon points="651.4,831.0 680.0,831.0 732.7,866.3" fill="#9d1189"/>
<text x="665.0" y="819.6" font-family="Liberation Sans" font-weight="700" font-size="22.5" fill="#ffffff" textLength="60.0" lengthAdjust="spacing" text-anchor="middle">72.73</text>
<rect x="788.4" y="826.4" width="76.2" height="45.9" rx="5" fill="#9d1189"/>
<polygon points="811.0,868.0 840.0,868.0 825.6,904.0" fill="#9d1189"/>
<text x="827.0" y="857.4" font-family="Liberation Sans" font-weight="700" font-size="22.5" fill="#ffffff" textLength="60.0" lengthAdjust="spacing" text-anchor="middle">66.67</text>
<rect x="880.3" y="769.1" width="75.8" height="45.6" rx="5" fill="#9d1189"/>
<polygon points="903.0,811.0 932.0,811.0 917.5,846.8" fill="#9d1189"/>
<text x="918.7" y="800.1" font-family="Liberation Sans" font-weight="700" font-size="22.5" fill="#ffffff" textLength="60.0" lengthAdjust="spacing" text-anchor="middle">77.65</text>
<rect x="1015.2" y="786.2" width="76.5" height="45.6" rx="5" fill="#9d1189"/>
<polygon points="1019.0,800.0 1019.0,818.0 993.3,824.9" fill="#9d1189"/>
<text x="1054.0" y="817.2" font-family="Liberation Sans" font-weight="700" font-size="22.5" fill="#ffffff" textLength="60.0" lengthAdjust="spacing" text-anchor="middle">57.52</text>
<rect x="1103.4" y="807.4" width="75.8" height="45.6" rx="5" fill="#9d1189"/>
<polygon points="1124.6,849.0 1155.6,849.0 1099.0,885.8" fill="#9d1189"/>
<text x="1141.8" y="838.4" font-family="Liberation Sans" font-weight="700" font-size="22.5" fill="#ffffff" textLength="60.0" lengthAdjust="spacing" text-anchor="middle">35.14</text>
<rect x="770.9" y="933.2" width="76.6" height="45.5" rx="5" fill="#9d1189"/>
<polygon points="844.0,949.6 844.0,960.5 880.3,959.8" fill="#9d1189"/>
<text x="809.7" y="964.2" font-family="Liberation Sans" font-weight="700" font-size="22.5" fill="#ffffff" textLength="60.0" lengthAdjust="spacing" text-anchor="middle">74.55</text>
<rect x="984.2" y="921.5" width="76.6" height="45.5" rx="5" fill="#9d1189"/>
<polygon points="1007.0,963.0 1036.0,963.0 1021.8,998.8" fill="#9d1189"/>
<text x="1023.0" y="952.5" font-family="Liberation Sans" font-weight="700" font-size="22.5" fill="#ffffff" textLength="60.0" lengthAdjust="spacing" text-anchor="middle">23.81</text>
<rect x="1051.6" y="966.0" width="76.6" height="45.5" rx="5" fill="#9d1189"/>
<polygon points="1075.0,1008.0 1104.0,1008.0 1090.0,1042.5" fill="#9d1189"/>
<text x="1090.4" y="997.0" font-family="Liberation Sans" font-weight="700" font-size="22.5" fill="#ffffff" textLength="60.0" lengthAdjust="spacing" text-anchor="middle">79.31</text>
</svg></body></html>
